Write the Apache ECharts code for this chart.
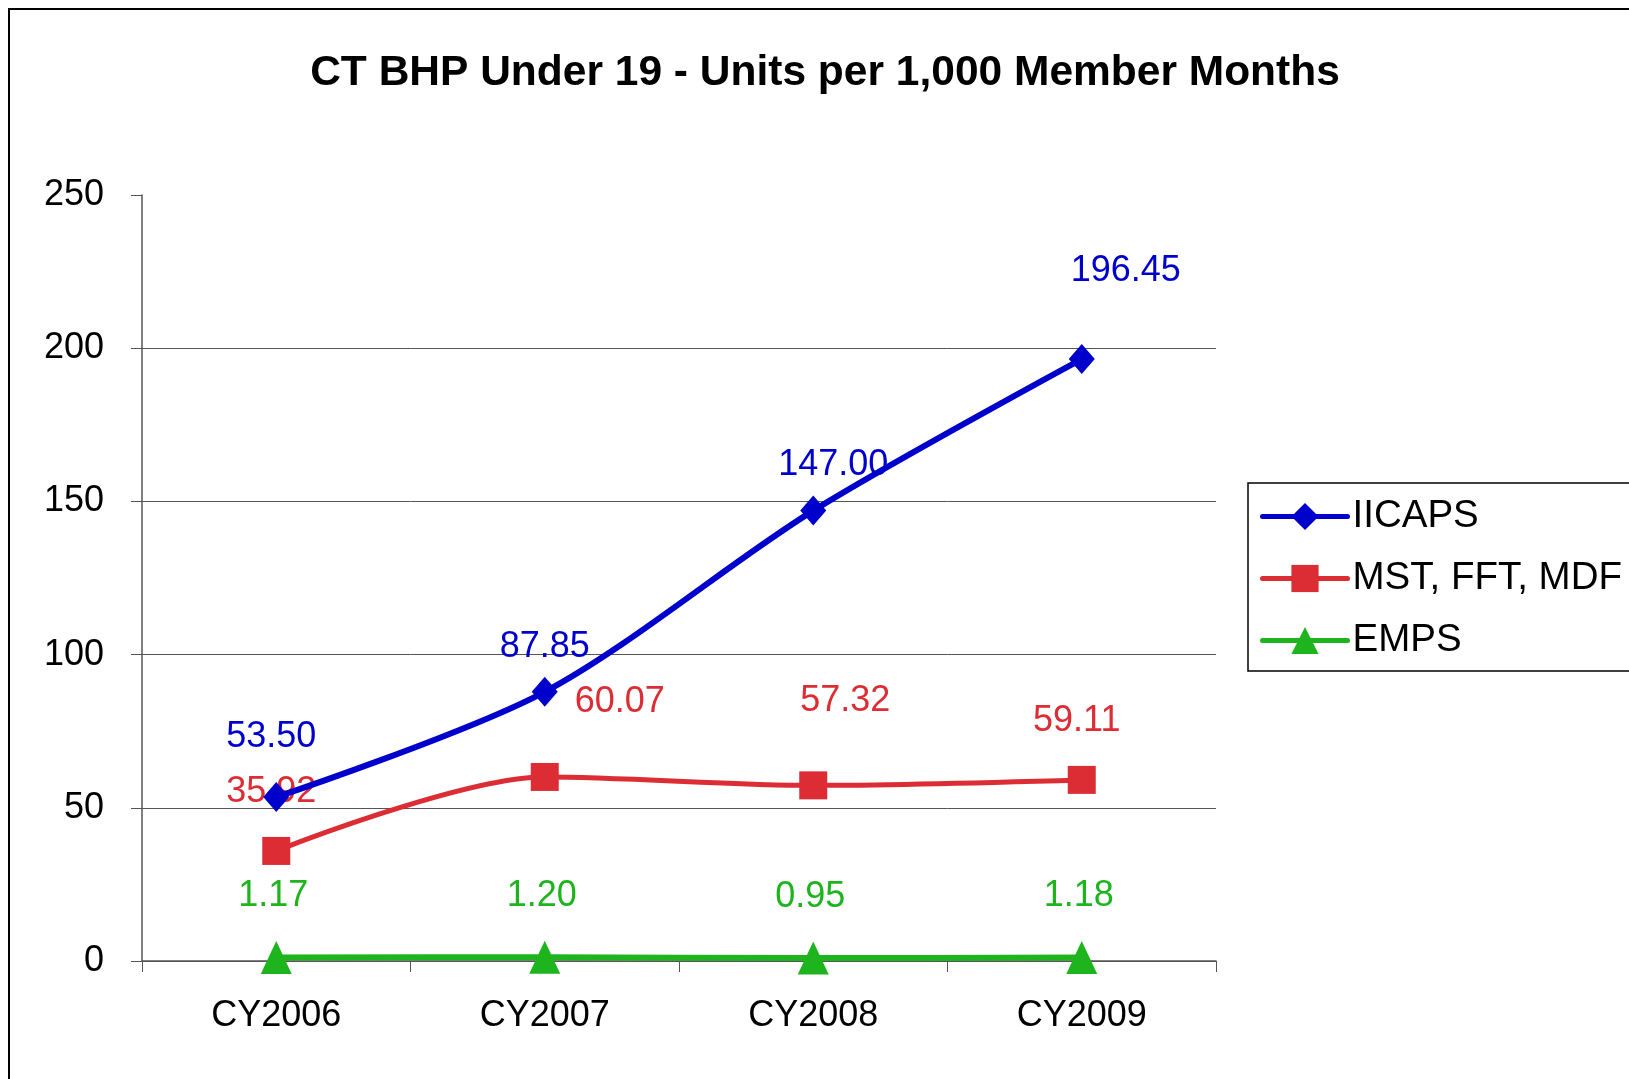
<!DOCTYPE html>
<html>
<head>
<meta charset="utf-8">
<script src="https://cdn.jsdelivr.net/npm/echarts@6/dist/echarts.min.js"></script>
<style>
  html, body { margin: 0; padding: 0; background: #fff; }
  #frame {
    position: absolute; left: 8px; top: 8px; width: 1700px; height: 1200px;
    border-left: 2px solid #000; border-top: 2px solid #000;
  }
  #chart { position: absolute; left: 0; top: 0; width: 1629px; height: 1079px; }
</style>
</head>
<body>
<div id="frame"></div>
<div id="chart"></div>
<script>
// data
const years = ["CY2006", "CY2007", "CY2008", "CY2009"];
const iicaps = [53.50, 87.85, 147.00, 196.45];
const mst = [35.92, 60.07, 57.32, 59.11];
const emps = [1.17, 1.20, 0.95, 1.18];
const yTicks = [0, 50, 100, 150, 200, 250];

// label offsets (Excel labels were dragged around a bit)
const iicapsOff = [[-5, -60], [0, -45], [20, -46], [44, -88]];
const mstOff = [[-5, -59], [75, -75], [32, -84], [-5, -59]];
const empsOff = [[-3, -61], [-3, -61], [-3, -61], [-3, -61]];

const font = "'Liberation Sans', Arial, sans-serif";
const blue = "#0000cc", red = "#dc2c34", green = "#1eb41e";

function withLabels(vals, offs, color) {
  return vals.map((v, i) => ({
    value: v,
    label: {
      show: true,
      position: "inside",
      offset: offs[i],
      color: color,
      fontSize: 36,
      fontFamily: font,
      textBorderWidth: 0,
      formatter: (p) => p.value.toFixed(2),
    },
  }));
}

const chart = echarts.init(document.getElementById("chart"));
chart.setOption({
  animation: false,
  title: {
    text: "CT BHP Under 19 - Units per 1,000 Member Months",
    left: 820,
    top: 47,
    textAlign: "center",
    textStyle: { fontSize: 42.5, fontWeight: "bold", color: "#000", fontFamily: font },
  },
  grid: { left: 142, top: 195, width: 1074, height: 766 },
  legend: {
    orient: "vertical",
    left: 1248,
    top: 483,
    padding: [14, 9, 11, 12],
    borderColor: "#000",
    borderWidth: 1.5,
    itemWidth: 85,
    itemHeight: 34,
    itemGap: 23,
    lineStyle: { width: 5, cap: "round" },
    textStyle: { fontSize: 38.5, color: "#000", fontFamily: font, lineHeight: 38 },
    data: ["IICAPS", "MST, FFT, MDF", "EMPS"],
  },
  xAxis: {
    type: "category",
    data: years,
    boundaryGap: true,
    axisLine: { lineStyle: { color: "#555", width: 1.5 } },
    axisTick: { show: true, length: 11, lineStyle: { color: "#555" } },
    axisLabel: { fontSize: 36, color: "#000", fontFamily: font, margin: 37 },
  },
  yAxis: {
    type: "value",
    min: yTicks[0],
    max: yTicks[yTicks.length - 1],
    interval: 50,
    axisLine: { show: true, lineStyle: { color: "#555", width: 1.5 } },
    axisTick: { show: true, length: 11, lineStyle: { color: "#555" } },
    axisLabel: { fontSize: 36, color: "#000", fontFamily: font, margin: 38 },
    splitLine: { show: true, showMaxLine: false, lineStyle: { color: "#555", width: 1 } },
  },
  series: [
    {
      name: "IICAPS",
      type: "line",
      smooth: 0.3,
      data: withLabels(iicaps, iicapsOff, blue),
      symbol: "diamond",
      symbolSize: [26, 30],
      lineStyle: { color: blue, width: 6 },
      itemStyle: { color: blue },
      z: 3,
    },
    {
      name: "MST, FFT, MDF",
      type: "line",
      smooth: 0.3,
      data: withLabels(mst, mstOff, red),
      symbol: "rect",
      symbolSize: 28,
      lineStyle: { color: red, width: 5 },
      itemStyle: { color: red },
      z: 2,
    },
    {
      name: "EMPS",
      type: "line",
      smooth: 0.3,
      data: withLabels(emps, empsOff, green),
      symbol: "triangle",
      symbolSize: [31, 33],
      lineStyle: { color: green, width: 6 },
      itemStyle: { color: green },
      z: 2,
    },
  ],
});
</script>
</body>
</html>
